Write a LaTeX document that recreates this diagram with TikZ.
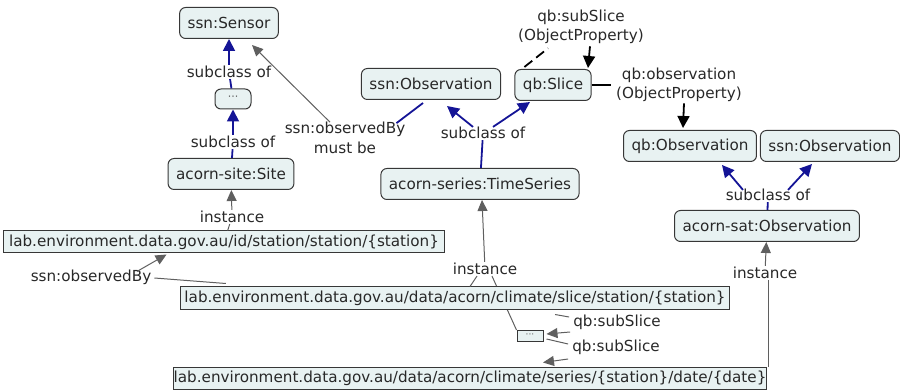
\documentclass[tikz,border=0pt]{standalone}
\usepackage{fontspec}
\setmainfont{DejaVu Sans}
\usetikzlibrary{arrows.meta,calc,backgrounds}
\definecolor{boxfill}{RGB}{232,242,242}
\definecolor{boxline}{RGB}{55,55,55}
\definecolor{linkgrey}{RGB}{95,95,95}
\definecolor{subblue}{RGB}{20,20,150}
\definecolor{txt}{RGB}{40,40,40}
\begin{document}
\begin{tikzpicture}[x=1pt,y=-1pt,
  font=\fontsize{15.2}{19.5}\selectfont,
  cls/.style={draw=boxline, fill=boxfill, rounded corners=6pt, inner xsep=8pt, inner ysep=0pt, minimum height=31pt, line width=1pt, text=txt},
  uri/.style={draw=boxline, fill=boxfill, inner xsep=4pt, inner ysep=0pt, minimum height=22pt, line width=1pt, text=txt},
  lbl/.style={text=txt, inner sep=1pt, align=center},
  gline/.style={draw=linkgrey, line width=1pt},
  garrow/.style={gline, -{Triangle[length=11pt,width=10pt]}},
  bline/.style={draw=subblue, line width=1.8pt},
  barrow/.style={bline, -{Triangle[length=12pt,width=12pt]}},
  kline/.style={draw=black, line width=1.8pt},
  karrow/.style={kline, -{Triangle[length=12pt,width=12pt]}},
  dotstxt/.style={text=txt!75, font=\fontsize{11}{11}\selectfont},
]
\useasboundingbox (0,0) rectangle (900,390);

% left column
\node[cls] (sensor) at (229,23) {ssn:Sensor};
\node[lbl] (sub1) at (229,72) {subclass of};
\node[cls, dotstxt, minimum height=20pt, minimum width=36pt, inner xsep=2pt] (dots1) at (233,99) {\raisebox{1pt}{···}};
\node[lbl] (sub2) at (233,142) {subclass of};
\node[cls] (site) at (231,174) {acorn-site:Site};
\node[lbl] (inst1) at (232,217) {instance};
\node[uri, inner xsep=6pt] (station) at (224,242) {lab.environment.data.gov.au/id/station/station/\{station\}};
\node[lbl] (obsby) at (91,277) {ssn:observedBy};
\node[lbl] (mustbe) at (345,138) {ssn:observedBy\\must be};

% bottom
\node[uri] (slice) at (455,298) {lab.environment.data.gov.au/data/acorn/climate/slice/station/\{station\}};
\node[uri, inner xsep=0.5pt] (series) at (470,378) {lab.environment.data.gov.au/data/acorn/climate/series/\{station\}/date/\{date\}};
\node[uri, dotstxt, font=\fontsize{9}{9}\selectfont, minimum height=11pt, minimum width=26pt, inner xsep=1pt] (dots2) at (530,336) {···};
\node[lbl] (ss1) at (617,322) {qb:subSlice};
\node[lbl] (ss2) at (616,347) {qb:subSlice};
\node[lbl] (inst2) at (485,269) {instance};

% middle
\node[cls] (ssnobs1) at (431,84) {ssn:Observation};
\node[cls] (qbslice) at (553,85) {qb:Slice};
\node[lbl] (subsliceprop) at (581,27) {qb:subSlice\\(ObjectProperty)};
\node[lbl] (sub3) at (483,133) {subclass of};
\node[cls] (ts) at (480,184) {acorn-series:TimeSeries};

% right
\node[lbl] (qbobsprop) at (679,85) {qb:observation\\(ObjectProperty)};
\node[cls] (qbobs) at (690,146) {qb:Observation};
\node[cls] (ssnobs2) at (830,146) {ssn:Observation};
\node[lbl] (sub4) at (768,195) {subclass of};
\node[cls] (sat) at (767,226) {acorn-sat:Observation};
\node[lbl] (inst3) at (765,273) {instance};
\coordinate (seriesR) at ($(series.north east)+(1,0)$);

% left connectors
\draw[barrow] (sub1) -- (sensor);
\draw[bline] (dots1) -- (sub1);
\draw[barrow] (sub2) -- (dots1);
\draw[bline] (site) -- (sub2);
\draw[garrow] (inst1) -- (site);
\draw[gline] (station) -- (inst1);
\draw[gline] ($(slice.north west)+(46,-3)$) -- ($(obsby.east)+(2,1)$);
\draw[garrow] ($(obsby.north)+(46,3)$) -- ($(station.south west)+(164,1)$);
\draw[garrow] ($(mustbe.north)+(-15,1)$) -- ($(sensor.south)+(23,6)$);
\draw[bline] ($(mustbe.north east)+(-10,2)$) -- ($(ssnobs1.south)+(-8,3)$);

% middle connectors
\draw[bline] (ts) -- (sub3);
\draw[barrow] ($(sub3.north)+(-10,1)$) -- ($(ssnobs1.south)+(16,6)$);
\draw[barrow] ($(sub3.north)+(10,1)$) -- ($(qbslice.south)+(-23,1)$);
\draw[kline, dash pattern=on 10pt off 5pt] ($(qbslice.north west)+(10,-2)$) -- ($(subsliceprop.south)+(-33,3)$);
\draw[karrow] ($(subsliceprop.south)+(9,1)$) -- ($(qbslice.north)+(35,-1)$);
\draw[kline] (qbslice.east) -- ($(qbobsprop.west)+(-4,0)$);
\draw[karrow] ($(qbobsprop.south)+(5,0)$) -- ($(qbobs.north)+(-7,-2)$);

% right connectors
\draw[bline] (sat) -- (sub4);
\draw[barrow] ($(sub4.north)+(-25,2)$) -- ($(qbobs.south)+(32,3)$);
\draw[barrow] ($(sub4.north)+(20,2)$) -- ($(ssnobs2.south)+(-18,2)$);
\draw[garrow] (inst3) -- (sat);
\draw[gline] (seriesR) -- (seriesR |- inst3.south);

% bottom connectors
\draw[garrow] (inst2) -- ($(ts.south)+(2,0)$);
\draw[gline] ($(inst2.south)+(-8,0)$) -- ($(slice.north)+(15,0)$);
\begin{scope}[on background layer]
\draw[gline] ($(inst2.south)+(7,0)$) -- (dots2.north west);
\end{scope}
\draw[gline] ($(slice.south east)+(-175,5)$) -- ($(ss1.west)+(-3,-5)$);
\draw[garrow] ($(ss1.west)+(-2,10)$) -- ($(dots2.east)+(3,-2)$);
\draw[gline] ($(dots2.east)+(3,3)$) -- ($(ss2.west)+(-3,-3)$);
\draw[garrow] ($(ss2.west)+(-3,12)$) -- ($(series.north)+(73,-4)$);
\end{tikzpicture}
\end{document}
